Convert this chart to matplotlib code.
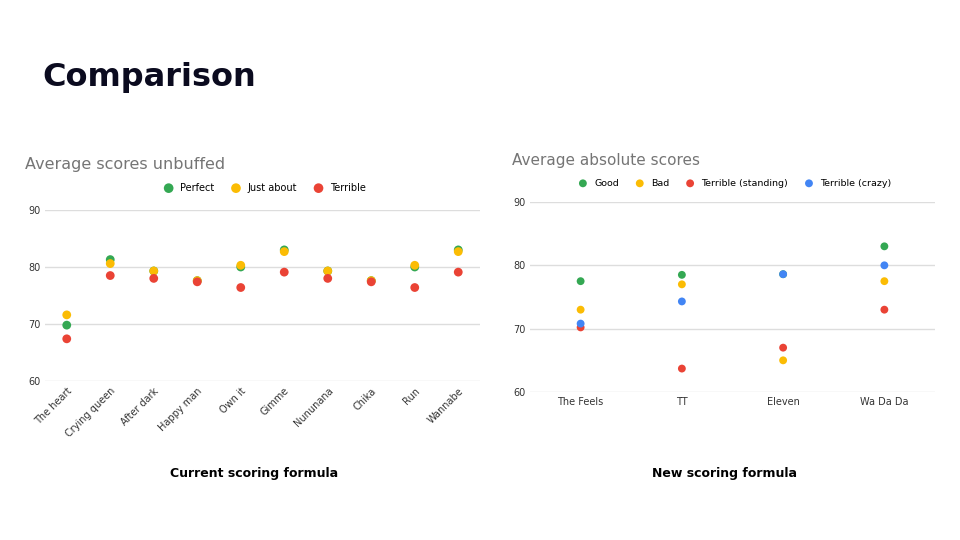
import matplotlib
matplotlib.use("Agg")
import matplotlib.pyplot as plt

songs_l = ["The heart","Crying queen","After dark","Happy man","Own it","Gimme","Nununana","Chika","Run","Wannabe"]
perfect = [69.8,81.3,79.3,77.6,80.0,83.0,79.3,77.6,80.0,83.0]
just_about = [71.6,80.6,79.3,77.6,80.3,82.7,79.3,77.6,80.3,82.7]
terrible = [67.4,78.5,78.0,77.4,76.4,79.1,78.0,77.4,76.4,79.1]

songs_r = ["The Feels","TT","Eleven","Wa Da Da"]
good = [77.5,78.5,78.6,83.0]
bad = [73.0,77.0,65.0,77.5]
terr_stand = [70.2,63.7,67.0,73.0]
terr_crazy = [70.8,74.3,78.6,80.0]

G,Y,R,B = "#34a853","#fbbc04","#ea4335","#4285f4"
W,H = 960,540
fig = plt.figure(figsize=(9.6,5.4), dpi=100)
fig.text(42/W, 1-78/H, "Comparison", fontsize=23, fontweight="bold", color="#0b0b1f", va="center", family="DejaVu Sans")

def style(ax):
    ax.set_ylim(60,90); ax.set_yticks([60,70,80,90])
    for s in ax.spines.values(): s.set_visible(False)
    ax.grid(axis="y", color="#dddddd", lw=1); ax.set_axisbelow(True)
    ax.tick_params(length=0, labelsize=7, colors="#333333")

ax1 = fig.add_axes([45/W, 1-381/H, 435/W, 171/H])
x = range(len(songs_l))
for vals,c,l in [(perfect,G,"Perfect"),(just_about,Y,"Just about"),(terrible,R,"Terrible")]:
    ax1.scatter(x, vals, s=40, color=c, label=l, zorder=3, edgecolors="none")
style(ax1)
ax1.set_xlim(-0.5,9.5)
ax1.set_xticks(list(x)); ax1.set_xticklabels(songs_l, rotation=45, ha="right", rotation_mode="anchor")
ax1.legend(loc="lower center", bbox_to_anchor=(0.5,1.05), ncol=3, frameon=False, fontsize=7, handletextpad=0.2, columnspacing=1.2, markerscale=1.1)
fig.text(25/W, 1-165/H, "Average scores unbuffed", fontsize=11.5, color="#757575", va="center")
fig.text(254/W, 1-474/H, "Current scoring formula", fontsize=9, fontweight="bold", ha="center", va="center")

ax2 = fig.add_axes([530/W, 1-392/H, 405/W, 190/H])
x = range(len(songs_r))
for vals,c,l in [(good,G,"Good"),(bad,Y,"Bad"),(terr_stand,R,"Terrible (standing)"),(terr_crazy,B,"Terrible (crazy)")]:
    ax2.scatter(x, vals, s=32, color=c, label=l, zorder=3, edgecolors="none")
style(ax2)
ax2.set_xlim(-0.5,3.5)
ax2.set_xticks(list(x)); ax2.set_xticklabels(songs_r)
ax2.legend(loc="lower center", bbox_to_anchor=(0.5,1.03), ncol=4, frameon=False, fontsize=6.8, handletextpad=0.2, columnspacing=1.2)
fig.text(512/W, 1-161/H, "Average absolute scores", fontsize=11, color="#757575", va="center")
fig.text(724/W, 1-474/H, "New scoring formula", fontsize=9, fontweight="bold", ha="center", va="center")

fig.savefig("out.png", dpi=100)
